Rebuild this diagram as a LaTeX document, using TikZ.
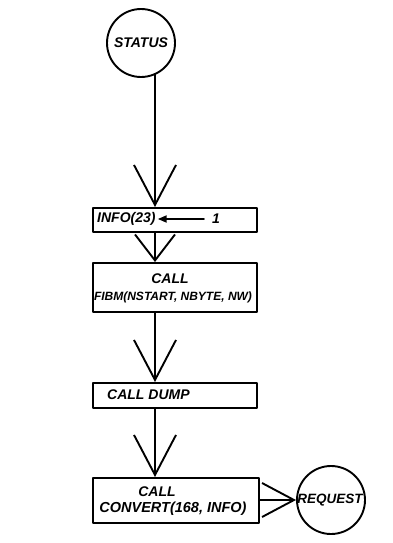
\documentclass[tikz,border=0pt]{standalone}
\usepackage{fontspec}
\setmainfont{Liberation Sans}
\usetikzlibrary{arrows.meta,calc}
\begin{document}
\begin{tikzpicture}[x=1pt,y=-1pt,
  ink/.style={line width=1.9pt, line join=round, line cap=round},
  flow/.style={ink, -{Straight Barb[length=40pt,width=42pt,line width=1.9pt]}},
  shortflow/.style={ink, -{Straight Barb[length=26pt,width=40pt,line width=1.9pt]}},
  sideflow/.style={ink, -{Straight Barb[length=32pt,width=34pt,line width=1.9pt]}},
  stepbox/.style={draw, ink, rectangle, minimum width=164pt, anchor=north west, inner sep=0pt},
  term/.style={draw, ink, circle, inner sep=0pt, minimum size=68pt},
  lbl/.style={font=\bfseries\itshape\fontsize{14}{16}\selectfont, inner sep=0pt},
  small/.style={font=\bfseries\itshape\fontsize{12}{14}\selectfont, inner sep=0pt}
]
\useasboundingbox (0,0) rectangle (392,543);

% terminals
\node[term] (status) at (141,43) {};
\node[lbl] at (status) {STATUS};

\node[term] (request) at (331,500) {};
\node[lbl, font=\bfseries\itshape\fontsize{13.5}{16}\selectfont] at (330,500) {REQUEST};

% processing steps
\node[stepbox, minimum height=24pt] (b1) at (92,207) {};
\node[stepbox, minimum height=49pt] (b2) at (92,262) {};
\node[stepbox, minimum height=25pt] (b3) at (92,382) {};
\node[stepbox, minimum height=45pt, minimum width=166pt] (b4) at (92,477) {};

% step texts
\node[lbl, anchor=west] (info) at (97,219) {INFO(23)};
\node[lbl, anchor=west] (one) at (212,219) {1};
\draw[ink, -{Triangle[length=9pt,width=7pt]}] (one.west) ++(-8,0) coordinate (a0) (a0) -- ([xshift=2pt]info.east);

\node[lbl] at (170,279) {CALL};
\node[small] at (173,297) {FIBM(NSTART, NBYTE, NW)};

\node[lbl, anchor=west] at (107,395) {CALL DUMP};

\node[lbl] at (157,492) {CALL};
\node[lbl, font=\bfseries\itshape\fontsize{14.5}{16}\selectfont] at (173,509) {CONVERT(168, INFO)};

% connectors along the main spine
\coordinate (s1) at ($(b1.north west)+(63,0)$);
\coordinate (s2) at ($(b2.north west)+(63,0)$);
\coordinate (s3) at ($(b3.north west)+(63,0)$);
\coordinate (s4) at ($(b4.north west)+(63,0)$);
\draw[flow] (s1 |- status.south) ++(0,-4) coordinate (s0) (s0) -- (s1);
\draw[shortflow] (s1 |- b1.south) -- (s2);
\draw[flow] (s2 |- b2.south) -- (s3);
\draw[flow] (s3 |- b3.south) -- (s4);
\draw[sideflow] (b4.east |- request) -- (request.west);
\end{tikzpicture}
\end{document}
